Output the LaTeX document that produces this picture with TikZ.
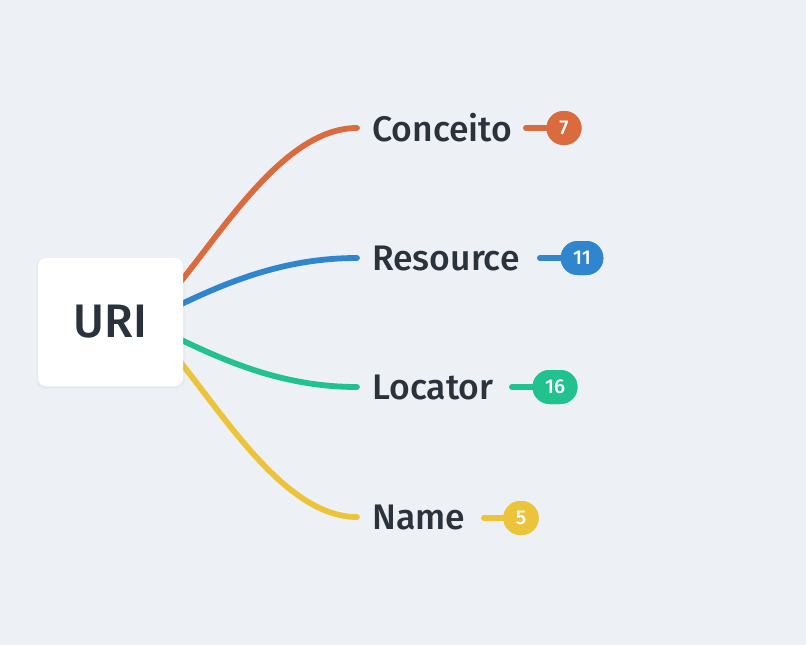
\documentclass[tikz,border=0pt]{standalone}
\usepackage{fontspec}
\setmainfont{Fira Sans}[UprightFont={* Medium}, BoldFont={* Medium}]
\definecolor{bg}{HTML}{EDF1F5}
\definecolor{txt}{HTML}{2A323C}
\definecolor{corange}{HTML}{D96B3F}
\definecolor{cblue}{HTML}{2F86CF}
\definecolor{cgreen}{HTML}{22C28E}
\definecolor{cyellow}{HTML}{ECC43C}
\tikzset{
  branch/.style={line width=5.8pt, line cap=round},
  leaf/.style={anchor=west, inner sep=0pt, text=txt, font=\fontsize{35.5}{38}\selectfont},
  badge/.style={fill=#1, rounded corners=17pt, minimum height=34pt, minimum width=35pt, inner xsep=12.5pt, inner ysep=0pt, text=white, font=\fontsize{20}{22}\selectfont},
  badgeline/.style={line width=6pt, line cap=round},
}
\begin{document}
\begin{tikzpicture}[x=1pt,y=-1pt]
\fill[bg] (0,0) rectangle (806,645);
\useasboundingbox (0,0) rectangle (806,645);
\coordinate (o0) at (165,300);
\coordinate (b0) at (165,312);
\coordinate (g0) at (165,332);
\coordinate (y0) at (165,344);
\node[leaf] (con) at (372,128) {Conceito};
\node[leaf] (res) at (372,258) {Resource};
\node[leaf] (loc) at (372,387) {Locator};
\node[leaf] (nam) at (372,517) {Name};
\coordinate (o1) at (357,128);
\coordinate (b1) at (357,258);
\coordinate (g1) at (357,387);
\coordinate (y1) at (357,517);
\draw[branch, corange] (o0) .. controls (215,245) and (280,128) .. (o1);
\draw[branch, cblue] (b0) .. controls (220,285) and (280,258) .. (b1);
\draw[branch, cgreen] (g0) .. controls (220,359) and (280,387) .. (g1);
\draw[branch, cyellow] (y0) .. controls (215,399) and (280,517) .. (y1);
\fill[black, opacity=0.025, rounded corners=9pt] (36,258) rectangle (185,389);
\node[fill=white, rounded corners=8pt, minimum width=145pt, minimum height=128pt, text=txt, font=\fontsize{47}{50}\selectfont] (uri) at (110.5,322) {URI};
\node[badge=corange] (bo) at (564,128) {7};
\node[badge=cblue] (bb) at (582,258) {11};
\node[badge=cgreen] (bg) at (555,387) {16};
\node[badge=cyellow] (by) at (521,518) {5};
\coordinate (lo) at (526,128);
\coordinate (lb) at (540,258);
\coordinate (lg) at (512,387);
\coordinate (ly) at (484,518);
\draw[badgeline, corange] (lo) -- (bo.center);
\draw[badgeline, cblue] (lb) -- (bb.center);
\draw[badgeline, cgreen] (lg) -- (bg.center);
\draw[badgeline, cyellow] (ly) -- (by.center);
\node[badge=corange] at (bo) {7};
\node[badge=cblue] at (bb) {11};
\node[badge=cgreen] at (bg) {16};
\node[badge=cyellow] at (by) {5};
\end{tikzpicture}
\end{document}
